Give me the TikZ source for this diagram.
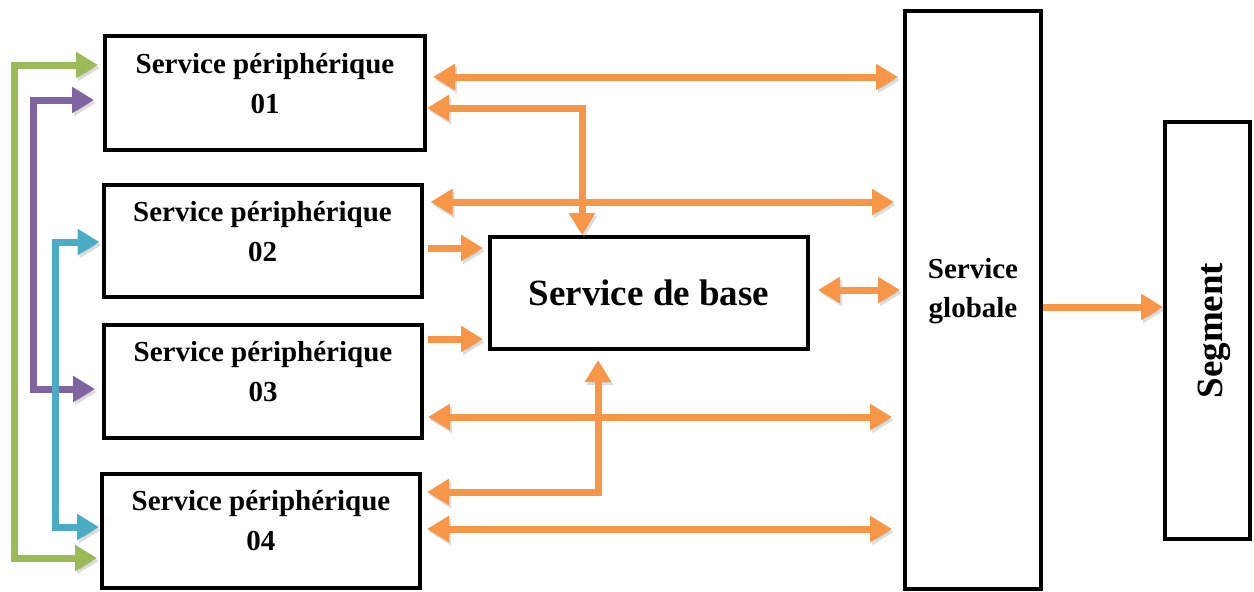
\documentclass[tikz,border=0pt]{standalone}
\usepackage{fontspec}
\usepackage{graphicx}
\setmainfont{Liberation Serif}
\usetikzlibrary{arrows.meta,calc}

\definecolor{flow}{HTML}{F79646}
\definecolor{loopgreen}{HTML}{9BBB59}
\definecolor{looppurple}{HTML}{8064A2}
\definecolor{loopteal}{HTML}{4BACC6}

% two centred lines, lifted a little above the middle of their box
\newcommand{\liftedlines}[3]{%
  \raisebox{#1}[\height][\depth]{\begin{tabular}{@{}c@{}}#2\\#3\end{tabular}}}

\tikzset{
  fat/.tip={Triangle[length=22pt,width=25pt]},
  box/.style={draw=black, line width=4pt, rectangle, inner sep=0pt,
    align=center, font=\bfseries\fontsize{29}{40}\selectfont},
  link/.style={line width=7pt, line join=miter,
    preaction={draw=black!45, opacity=.3,
      transform canvas={shift={(2pt,-3pt)}}}},
  oarrow/.style={link, draw=flow, -fat},
  obiarrow/.style={link, draw=flow, fat-fat},
  loop/.style={link, fat-fat},
}

\begin{document}
\begin{tikzpicture}[x=1pt,y=-1pt]
\useasboundingbox (0,0) rectangle (1254,592);

% peripheral services
\node[box, minimum width=320pt, minimum height=114pt] (p1) at (265,93)
  {\liftedlines{8pt}{Service périphérique}{01}};
\node[box, minimum width=318pt, minimum height=112pt] (p2) at (262.5,240.5)
  {\liftedlines{7pt}{Service périphérique}{02}};
\node[box, minimum width=318pt, minimum height=113pt] (p3) at (263,381.5)
  {\liftedlines{8pt}{Service périphérique}{03}};
\node[box, minimum width=318pt, minimum height=114pt] (p4) at (261,531)
  {\liftedlines{9pt}{Service périphérique}{04}};

% core, global service and segment
\node[box, minimum width=318pt, minimum height=112pt,
  font=\bfseries\fontsize{37}{44}\selectfont] (base) at (649,293) {Service de base};
\node[box, minimum width=136pt, minimum height=578pt,
  font=\bfseries\fontsize{29}{39}\selectfont] (glob) at (973,300)
  {\liftedlines{10pt}{Service}{globale}};
\node[box, minimum width=85pt, minimum height=417pt,
  font=\bfseries\fontsize{37}{44}\selectfont] (seg) at (1207.5,330.5)
  {\rotatebox{90}{\raisebox{-7pt}[\height][\depth]{Segment}}};

% anchor points of the orange links
\coordinate (a1) at ($(p1.east)+(6,-16)$);
\coordinate (a2) at ($(p1.east)+(0,15)$);
\coordinate (a3) at ($(p2.east)+(7,-38.5)$);
\coordinate (a4) at ($(p2.east)+(4,7.5)$);
\coordinate (a5) at ($(p3.east)+(4,-42.5)$);
\coordinate (a6) at ($(p3.east)+(4,35.5)$);
\coordinate (a7) at ($(p4.east)+(5,-39)$);
\coordinate (a8) at ($(p4.east)+(5,-2)$);
\coordinate (b1) at ($(base.east)+(8,-3)$);
\coordinate (g1) at ($(glob.east)+(0,7)$);
\coordinate (bt) at ($(base.north)+(-67,0)$);
\coordinate (bb) at ($(base.south)+(-51,0)$);

% orange links
\draw[obiarrow, shorten >=5pt] (a1) -- (a1 -| glob.west);
\draw[obiarrow] (a2) -| (bt);
\draw[obiarrow, shorten >=9pt] (a3) -- (a3 -| glob.west);
\draw[oarrow, shorten >=5pt] (a4) -- (a4 -| base.west);
\draw[oarrow, shorten >=5pt] (a5) -- (a5 -| base.west);
\draw[obiarrow, shorten >=3pt] (b1) -- (b1 -| glob.west);
\draw[obiarrow, shorten >=11pt] (a6) -- (a6 -| glob.west);
\draw[obiarrow, shorten >=9pt] (a7) -| (bb);
\draw[obiarrow, shorten >=11pt] (a8) -- (a8 -| glob.west);
\draw[oarrow] (g1) -- (g1 -| seg.west);

% coloured loops on the left
\coordinate (gA) at ($(p1.west)+(-5,-28)$);
\coordinate (gB) at ($(p4.west)+(-3,27)$);
\coordinate (pA) at ($(p1.west)+(-9,7)$);
\coordinate (pB) at ($(p3.west)+(-7,7.5)$);
\coordinate (tA) at ($(p2.west)+(-2,1.5)$);
\coordinate (tB) at ($(p4.west)+(-1,-4)$);

\draw[loop, draw=loopgreen] (gA) -- ++(-84,0) |- (gB);
\draw[loop, draw=looppurple] (pA) -- ++(-61,0) |- (pB);
\draw[loop, draw=loopteal] (tA) -- ++(-44,0) |- (tB);
\end{tikzpicture}
\end{document}
